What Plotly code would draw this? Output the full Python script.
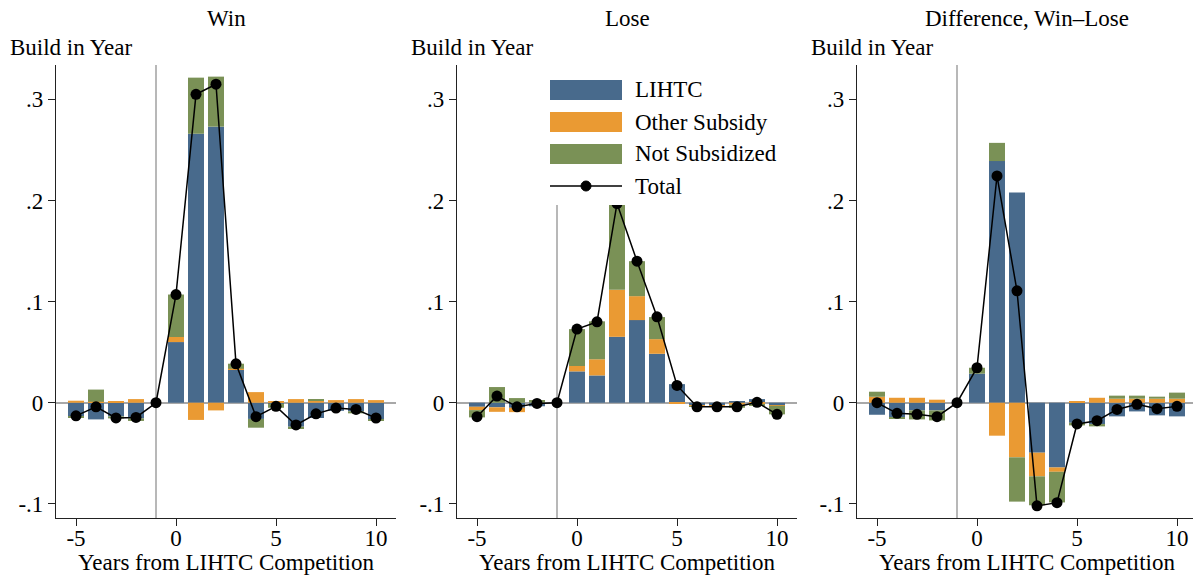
import plotly.graph_objects as go

W, H = 1193, 578

years = list(range(-5, 11))
series_names = ["LIHTC", "Other Subsidy", "Not Subsidized", "Total"]
panel_titles = ["Win", "Lose", "Difference, Win\u2013Lose"]
ytick_vals = [-0.1, 0, 0.1, 0.2, 0.3]
ytick_text = ["-.1", "0", ".1", ".2", ".3"]
xtick_vals = [-5, 0, 5, 10]
xtick_text = ["-5", "0", "5", "10"]

# Win
lihtc_win = [-0.014, -0.0165, -0.0135, -0.0155, 0, 0.060, 0.266, 0.273, 0.0326, -0.016, -0.001, -0.0237, -0.0151, -0.008, -0.0085, -0.0165]
other_win = [0.002, 0.001, 0.001, 0.0036, 0, 0.005, -0.017, -0.0076, 0.001, 0.0105, 0.001, 0.0036, 0.002, 0.0026, 0.0036, 0.0026]
notsub_win = [-0.001, 0.012, -0.002, -0.0025, 0, 0.042, 0.0555, 0.0495, 0.005, -0.0087, -0.004, -0.0023, 0.0016, 0, -0.002, -0.0013]
total_win = [-0.013, -0.004, -0.015, -0.0145, 0, 0.107, 0.305, 0.315, 0.0385, -0.0138, -0.0036, -0.022, -0.011, -0.0053, -0.0066, -0.0151]

# Lose
lihtc_lose = [-0.004, -0.0045, -0.005, -0.0035, 0, 0.031, 0.027, 0.0652, 0.0817, 0.0484, 0.0184, -0.0026, -0.0026, 0.001, 0.0036, -0.0023]
other_lose = [-0.0033, -0.0045, -0.0043, 0, 0, 0.0053, 0.016, 0.0465, 0.0237, 0.0145, -0.001, -0.001, -0.001, -0.002, -0.0012, -0.0007]
notsub_lose = [-0.0072, 0.0155, 0.0046, 0.0027, 0, 0.0365, 0.0375, 0.086, 0.0346, 0.0218, 0, -0.0004, -0.0005, -0.003, -0.002, -0.0085]
total_lose = [-0.0138, 0.0066, -0.004, -0.0007, 0, 0.0728, 0.080, 0.197, 0.140, 0.085, 0.0171, -0.004, -0.004, -0.004, 0.0004, -0.0115]

# Difference
lihtc_diff = [-0.0119, -0.0145, -0.0076, -0.0076, 0, 0.0287, 0.239, 0.2078, -0.0494, -0.064, -0.0198, -0.0211, -0.0135, -0.0086, -0.0125, -0.0135]
other_diff = [0.0059, 0.0049, 0.0049, 0.003, 0, 0, -0.0326, -0.054, -0.0234, -0.0043, 0.001, 0.0049, 0.004, 0.004, 0.004, 0.004]
notsub_diff = [0.005, -0.0013, -0.0089, -0.0099, 0, 0.0059, 0.018, -0.0438, -0.0286, -0.0303, -0.0026, -0.0023, 0.003, 0.003, 0.002, 0.006]
total_diff = [0, -0.0105, -0.0115, -0.0138, 0, 0.0346, 0.2243, 0.1107, -0.102, -0.0988, -0.021, -0.0178, -0.0066, -0.0016, -0.0059, -0.0036]

panels = [
    (lihtc_win, other_win, notsub_win, total_win),
    (lihtc_lose, other_lose, notsub_lose, total_lose),
    (lihtc_diff, other_diff, notsub_diff, total_diff),
]

colors = ["#486a8c", "#ea9a33", "#7a9156"]
FONT = "Liberation Serif"
FS = 23

def fx(p):
    return p / W

def fy(p):
    return 1 - p / H

# pixel layout of the three plot areas
x_domains = [(56, 396), (457, 797), (857, 1193)]
x_ranges = [[-6, 11], [-6, 11], [-6, 10.8]]
y_dom = [fy(518), fy(65)]
y_range = [-0.114, 0.334]

fig = go.Figure()

for i, (lihtc, other, notsub, total) in enumerate(panels):
    sfx = "" if i == 0 else str(i + 1)
    for name, vals, col in zip(series_names[:3], (lihtc, other, notsub), colors):
        fig.add_trace(go.Bar(x=years, y=vals, name=name, marker_color=col,
                             marker_line_width=0, width=0.8,
                             xaxis="x" + sfx, yaxis="y" + sfx, showlegend=False))
    fig.add_trace(go.Scatter(x=years, y=total, name=series_names[3], mode="lines+markers",
                             line=dict(color="black", width=1.5),
                             marker=dict(color="black", size=11),
                             xaxis="x" + sfx, yaxis="y" + sfx, showlegend=False))

axis_common = dict(showgrid=False, showline=True, linecolor="#222", linewidth=1.2,
                   ticks="outside", ticklen=7, tickcolor="#222", tickwidth=1.2,
                   tickfont=dict(family=FONT, size=FS, color="black"))

layout = dict(width=W, height=H, margin=dict(l=0, r=0, t=0, b=0),
              paper_bgcolor="white", plot_bgcolor="white", barmode="relative",
              bargap=0.2, showlegend=False, font=dict(family=FONT, size=FS, color="black"))

shapes = []
annotations = []
for i in range(3):
    sfx = "" if i == 0 else str(i + 1)
    d0, d1 = x_domains[i]
    layout["xaxis" + sfx] = dict(axis_common, domain=[fx(d0), fx(d1)], range=x_ranges[i],
                                 tickvals=xtick_vals, ticktext=xtick_text,
                                 ticklabelstandoff=-8,
                                 zeroline=False, anchor="y" + sfx)
    layout["yaxis" + sfx] = dict(axis_common, domain=y_dom, range=y_range,
                                 tickvals=ytick_vals, ticktext=ytick_text,
                                 zeroline=True, zerolinecolor="#a8a8a8", zerolinewidth=2,
                                 anchor="x" + sfx)
    shapes.append(dict(type="line", xref="x" + sfx, yref="y" + sfx + " domain",
                       x0=-1, x1=-1, y0=0, y1=1, layer="below",
                       line=dict(color="#a0a0a0", width=1.5)))
    cx = (d0 + d0 + 340) / 2
    annotations.append(dict(text=panel_titles[i], x=fx(cx), y=fy(18), xref="paper", yref="paper",
                            xanchor="center", yanchor="middle", showarrow=False,
                            font=dict(family=FONT, size=FS)))
    annotations.append(dict(text="Build in Year", x=fx(d0 - 48), y=fy(48), xref="paper", yref="paper",
                            xanchor="left", yanchor="middle", showarrow=False,
                            font=dict(family=FONT, size=FS)))
    annotations.append(dict(text="Years from LIHTC Competition", x=fx(cx), y=fy(562),
                            xref="paper", yref="paper", xanchor="center", yanchor="middle",
                            showarrow=False, font=dict(family=FONT, size=FS)))

# legend box inside the Lose panel
shapes.append(dict(type="rect", xref="paper", yref="paper", x0=fx(538), x1=fx(792),
                   y0=fy(205), y1=fy(64), fillcolor="white", line_width=0, layer="above"))
legend_y = [90, 122, 154, 186]
for k in range(3):
    shapes.append(dict(type="rect", xref="paper", yref="paper", x0=fx(550), x1=fx(622),
                       y0=fy(legend_y[k] + 10), y1=fy(legend_y[k] - 10),
                       fillcolor=colors[k], line_width=0, layer="above"))
shapes.append(dict(type="line", xref="paper", yref="paper", x0=fx(550), x1=fx(622),
                   y0=fy(legend_y[3]), y1=fy(legend_y[3]), line=dict(color="black", width=1.5),
                   layer="above"))
shapes.append(dict(type="circle", xref="paper", yref="paper", x0=fx(581), x1=fx(591),
                   y0=fy(legend_y[3] + 5), y1=fy(legend_y[3] - 5), fillcolor="black",
                   line=dict(color="black", width=1), layer="above"))
for k in range(4):
    annotations.append(dict(text=series_names[k], x=fx(633), y=fy(legend_y[k]), xref="paper",
                            yref="paper", xanchor="left", yanchor="middle", showarrow=False,
                            font=dict(family=FONT, size=FS)))

layout["shapes"] = shapes
layout["annotations"] = annotations
fig.update_layout(**layout)

fig.write_html("out.html", config={"displayModeBar": False},
               post_script="document.body.style.margin='0';")
